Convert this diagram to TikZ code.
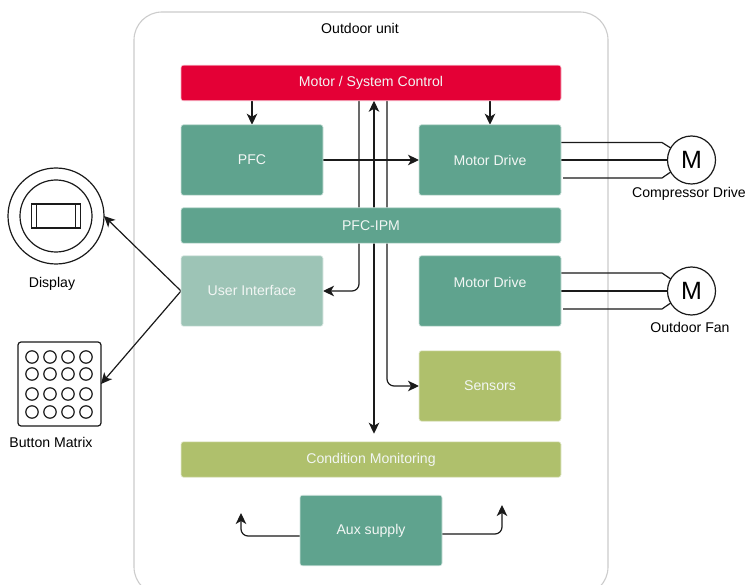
\documentclass[tikz,border=0pt]{standalone}
\usepackage{fontspec}
\setmainfont{Liberation Sans}
\usetikzlibrary{arrows.meta,calc}
\pgfdeclarelayer{back}
\pgfdeclarelayer{wires}
\pgfsetlayers{back,wires,main}
\definecolor{ctlred}{HTML}{E40036}
\definecolor{teal}{HTML}{5FA38E}
\definecolor{paleteal}{HTML}{9DC4B6}
\definecolor{olive}{HTML}{AFC06C}
\definecolor{wire}{HTML}{1A1A1A}
\definecolor{frameg}{HTML}{CCCCCC}
\definecolor{boxtext}{HTML}{F2F6F4}
\tikzset{
  x=1pt,y=-1pt,
  every node/.style={inner sep=0pt,outer sep=0pt,font=\fontsize{14.1}{16}\selectfont},
  block/.style={rectangle,rounded corners=2.5pt,draw=white!70!#1,line width=0.6pt,fill=#1,text=boxtext},
  wide/.style={block=#1,minimum width=380pt,minimum height=35.5pt},
  small/.style={block=#1,minimum width=142pt,minimum height=70.5pt},
  tip/.style={Stealth[length=11pt,width=10.5pt,inset=3pt]},
  conn/.style={draw=wire,line width=1.2pt,-{Stealth[length=11pt,width=10.5pt,inset=3pt]}},
  biconn/.style={draw=wire,line width=1.2pt,{Stealth[length=11pt,width=10.5pt,inset=3pt]}-{Stealth[length=11pt,width=10.5pt,inset=3pt]}},
  plain/.style={draw=wire,line width=1.2pt},
  motor/.style={circle,draw=wire,line width=1.2pt,fill=white,minimum size=48pt,text=black,font=\fontsize{25}{27}\selectfont},
  caption/.style={text=black}
}
\begin{document}
\begin{tikzpicture}
\useasboundingbox (0,0) rectangle (747,585);
\begin{pgfonlayer}{back}
\fill[white] (0,0) rectangle (747,585);
\begin{scope}
\clip (0,0) rectangle (747,585);
\draw[frameg,line width=1.1pt,rounded corners=28pt] (134,12) rectangle (608,595);
\end{scope}
\end{pgfonlayer}
\node[caption] (title) at (360,28) {Outdoor unit};
\node[wide=ctlred] (ctrl) at (371,83) {\raisebox{-1pt}{Motor / System Control}};
\node[small=teal] (pfc) at (252,160) {PFC};
\node[small=teal] (mda) at (490,160) {Motor Drive};
\node[wide=teal] (ipm) at (371,225.5) {PFC-IPM};
\node[small=paleteal] (ui) at (252,291) {\raisebox{0.5pt}{User Interface}};
\node[small=teal] (mdb) at (490,291) {\raisebox{17pt}{Motor Drive}};
\node[small=olive] (sens) at (490,386) {\raisebox{-0.5pt}{Sensors}};
\node[wide=olive] (cond) at (371,459.5) {\raisebox{-1pt}{Condition Monitoring}};
\node[small=teal] (aux) at (371,530.5) {\raisebox{-0.5pt}{Aux supply}};
\node[motor] (ma) at (691.5,160) {M};
\node[motor] (mb) at (691.5,291) {M};
\node[caption] (la) at (689,194) {Compressor Drive};
\node[caption] (lb) at (690,327) {Outdoor Fan};
\node[caption] (ld) at (52,283.5) {Display};
\node[caption] (lm) at (51,442) {Button Matrix};
% display
\node[circle,draw=wire,line width=1.2pt,minimum size=96pt] (disp) at (56,216) {};
\node[circle,draw=wire,line width=1.2pt,minimum size=72pt] (dispin) at (disp.center) {};
\node[rectangle,draw=wire,line width=1.2pt,minimum width=49pt,minimum height=24pt] (scr) at (disp.center) {};
\draw[plain] ($(scr.north west)+(5,0)$) -- ($(scr.south west)+(5,0)$);
\draw[plain] ($(scr.north east)+(-5,0)$) -- ($(scr.south east)+(-5,0)$);
% button matrix
\node[rectangle,rounded corners=3pt,draw=wire,line width=1.2pt,minimum width=83pt,minimum height=84pt] (btn) at (59.5,384) {};
\foreach \py in {357,374,394,412}
  \foreach \px in {32,50,68,86}
    \draw[plain] (\px,\py) circle[radius=6.2];
\coordinate (auxl) at (241,513);
\coordinate (auxr) at (502,505);
\begin{pgfonlayer}{wires}
\draw[conn] (ctrl.south -| pfc.north) -- (pfc.north);
\draw[conn] (ctrl.south -| mda.north) -- (mda.north);
\draw[conn] (pfc.east) -- (mda.west);
\draw[conn,rounded corners=7pt] ($(ctrl.south)+(-12,0)$) |- (ui.east);
\draw[biconn] ($(ctrl.south)+(3,0)$) -- ($(cond.north)+(3,-8)$);
\draw[conn,rounded corners=7pt] ($(ctrl.south)+(16,0)$) |- (sens.west);
\draw[conn] (ui.west) -- (disp.east);
\draw[conn] (ui.west) -- (btn.east);
\draw[conn,rounded corners=7pt] ($(aux.west)+(0,5.5)$) -| (auxl);
\draw[conn,rounded corners=7pt] ($(aux.east)+(0,3.5)$) -| (auxr);
\draw[plain] ($(mda.east)+(0,-17.5)$) -- ++(101,0) -- (ma.150);
\draw[plain] (mda.east) -- (ma.west);
\draw[plain] ($(mda.east)+(2,18)$) -- ++(99,0) -- (ma.210);
\draw[plain] ($(mdb.east)+(0,-18)$) -- ++(101,0) -- (mb.150);
\draw[plain] (mdb.east) -- (mb.west);
\draw[plain] ($(mdb.east)+(2,18)$) -- ++(99,0) -- (mb.210);
\end{pgfonlayer}
\end{tikzpicture}
\end{document}
